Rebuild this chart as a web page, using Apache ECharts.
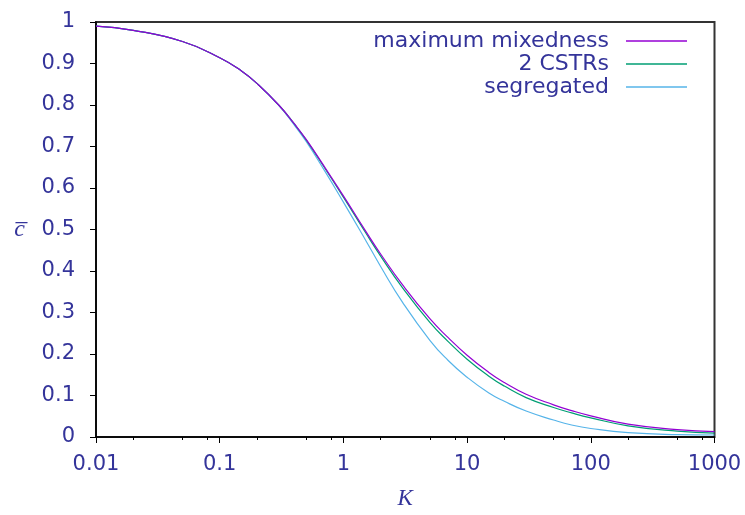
<!DOCTYPE html>
<html>
<head>
<meta charset="utf-8">
<script src="https://cdn.jsdelivr.net/npm/echarts@6/dist/echarts.min.js"></script>
<style>
  html, body { margin: 0; padding: 0; background: #fff; }
  #chart { width: 745px; height: 515px; }
</style>
</head>
<body>
<div id="chart"></div>
<script>
// Dimensionless rate constant K (log scale)
const kValues = [0.01, 0.02, 0.05, 0.1, 0.15, 0.2, 0.3, 0.4, 0.5, 0.7, 1, 1.5, 2, 3, 5, 7, 10, 15, 20, 30, 50, 70, 100, 200, 500, 1000];

// Mean exit concentration for each mixing model
const maxMixedness = [0.990, 0.980, 0.953, 0.914, 0.882, 0.852, 0.800, 0.755, 0.717, 0.652, 0.581, 0.498, 0.441, 0.367, 0.285, 0.240, 0.197, 0.1556, 0.1312, 0.1030, 0.0775, 0.0636, 0.051, 0.031, 0.0180, 0.0129];
const twoCstrs     = [0.990, 0.980, 0.953, 0.914, 0.882, 0.852, 0.800, 0.755, 0.716, 0.650, 0.578, 0.494, 0.436, 0.360, 0.276, 0.2305, 0.1875, 0.1466, 0.1227, 0.0950, 0.0710, 0.0581, 0.0462, 0.0270, 0.0140, 0.0095];
const segregated   = [0.990, 0.980, 0.953, 0.914, 0.882, 0.852, 0.799, 0.752, 0.712, 0.643, 0.566, 0.476, 0.411, 0.325, 0.233, 0.185, 0.144, 0.106, 0.086, 0.0625, 0.041, 0.029, 0.0205, 0.0105, 0.0058, 0.0048];

const seriesNames = ['maximum mixedness', '2 CSTRs', 'segregated'];
const seriesColors = ['#9400d3', '#009e73', '#56b4e9'];
const seriesValues = [maxMixedness, twoCstrs, segregated];

// Minor tick positions within each decade
const minorTicks = [0.02, 0.05, 0.08, 0.2, 0.5, 0.8, 2, 5, 8, 20, 50, 80, 200, 500, 800];

const textColor = '#34349a';
const sansFont = 'DejaVu Sans';

const chart = echarts.init(document.getElementById('chart'), null, { renderer: 'canvas' });

const legendTops = [30, 53, 76];

chart.setOption({
  animation: false,
  backgroundColor: '#ffffff',
  grid: {
    left: 96, top: 22, width: 618.5, height: 419.7,
    show: true, borderColor: '#333', borderWidth: 2, backgroundColor: 'transparent'
  },
  legend: seriesNames.map((name, i) => ({
    data: [{ name: name, icon: 'rect' }],
    right: 58,
    top: legendTops[i],
    padding: 0,
    align: 'right',
    itemWidth: 61,
    itemHeight: 1.5,
    selectedMode: false,
    textStyle: { color: textColor, fontFamily: sansFont, fontSize: 22, padding: [0, 12, 0, 0] }
  })),
  xAxis: [
    {
      type: 'log', logBase: 10, min: 0.01, max: 1000, interval: 1,
      name: 'K', nameLocation: 'middle', nameGap: 50,
      nameTextStyle: { color: textColor, fontFamily: 'Liberation Serif', fontStyle: 'italic', fontSize: 23 },
      axisLine: { show: true, lineStyle: { color: '#000', width: 1.5 } },
      axisTick: { show: true, inside: false, length: 6, lineStyle: { color: '#000', width: 1 } },
      axisLabel: {
        color: textColor, fontFamily: sansFont, fontSize: 21, margin: 17,
        formatter: v => String(+Number(v).toPrecision(6))
      },
      splitLine: { show: false },
      minorTick: { show: false }
    },
    {
      type: 'log', logBase: 10, min: 0.01, max: 1000, position: 'bottom', offset: 0,
      axisLine: { show: false },
      axisTick: { show: true, inside: false, length: 3, customValues: minorTicks, lineStyle: { color: '#000', width: 1 } },
      axisLabel: { show: false },
      splitLine: { show: false }
    }
  ],
  yAxis: {
    type: 'value', min: 0, max: 1, interval: 0.1,
    name: 'c\u0305', nameLocation: 'middle', nameGap: 71, nameRotate: 0,
    nameTextStyle: { color: textColor, fontFamily: 'Liberation Serif', fontStyle: 'italic', fontSize: 24 },
    axisLine: { show: true, lineStyle: { color: '#000', width: 1.5 } },
    axisTick: { show: true, inside: false, length: 6, lineStyle: { color: '#000', width: 1 } },
    axisLabel: { color: textColor, fontFamily: sansFont, fontSize: 21, margin: 21 },
    splitLine: { show: false }
  },
  series: seriesNames.map((name, i) => ({
    name: name,
    type: 'line',
    xAxisIndex: 0,
    symbol: 'none',
    showSymbol: false,
    smooth: 0.5,
    color: seriesColors[i],
    lineStyle: { color: seriesColors[i], width: 1.2 },
    data: kValues.map((k, j) => [k, seriesValues[i][j]]),
    z: 3 - i
  }))
});
</script>
</body>
</html>
